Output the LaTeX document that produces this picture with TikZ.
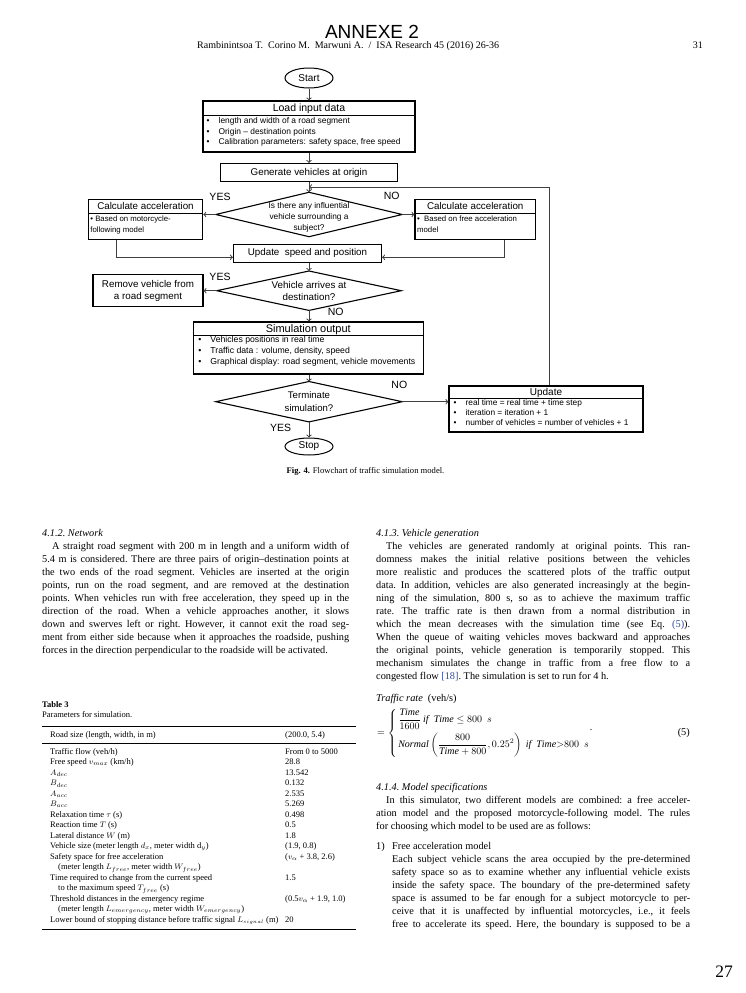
\documentclass[tikz,border=0pt]{standalone}
\usepackage{amsmath}
\usepackage{amssymb}
\usepackage{fontspec}
\setmainfont{Liberation Serif}
\newfontfamily\flowfont{Liberation Sans}
\usetikzlibrary{shapes.geometric, calc}

\definecolor{linkblue}{RGB}{45,75,165}
\newcommand{\bul}{\makebox[12pt][l]{\textbullet}}
\newcommand{\trow}[2]{\makebox[235pt][l]{#1}#2}
\newcommand{\justset}{\tolerance=9999\relax\hyphenpenalty=10000\relax\frenchspacing}
\newcommand{\decisionpath}[1]{\draw[line width=1.1pt] (#1.north) -- (#1.east) -- (#1.south) -- (#1.west) -- cycle;}

\tikzset{
  box/.style={draw, line width=1.1pt, inner sep=1pt, align=center, font=\flowfont\fontsize{9.8}{12}\selectfont},
  decision/.style={inner sep=0pt, align=center},
  terminal/.style={draw, ellipse, line width=1pt, inner sep=0pt, font=\flowfont\fontsize{10}{12}\selectfont},
  conn/.style={->, line width=1pt, black!75},
  yesno/.style={font=\flowfont\fontsize{10.5}{12}\selectfont, inner sep=0pt},
  boxtitle/.style={font=\flowfont\fontsize{10.5}{12}\selectfont, inner sep=0pt, anchor=base},
  boxitems/.style={font=\flowfont\fontsize{8.4}{10.8}\selectfont, inner sep=0pt, align=left, anchor=north west},
  bodytext/.style={font=\fontsize{10.3}{13}\selectfont, inner sep=0pt, anchor=north west, align=justify},
  tabtext/.style={font=\fontsize{8.5}{10.5}\selectfont\frenchspacing, inner sep=0pt, anchor=base west}
}

\begin{document}
\begin{tikzpicture}[x=1pt, y=-1pt]

    \useasboundingbox (0,0) rectangle (745,993);

    % Page header
    \node[font=\flowfont\fontsize{19}{21}\selectfont, anchor=base, inner sep=0pt] (annexe) at (372,38) {ANNEXE 2};
    \node[font=\fontsize{10}{12}\selectfont, anchor=base west, inner sep=0pt] (runhead) at (197,48) {Rambinintsoa T.\ \ Corino M.\ \ Marwuni A.\ \ /\ \ ISA Research 45 (2016) 26-36};
    \node[font=\fontsize{10}{12}\selectfont, anchor=base east, inner sep=0pt] (pageno) at (703,48) {31};

    % Flowchart: main column
    \node[terminal, minimum width=48, minimum height=20] (start) at (309,78) {Start};

    \node[box, minimum width=212, minimum height=51] (load) at (309,126.5) {};
    \node[boxtitle] (loadT) at ([yshift=-11pt]load.north) {Load input data};
    \draw[line width=0.8pt] ([yshift=-14.5pt]load.north west) -- ([yshift=-14.5pt]load.north east);
    \node[boxitems] (loadI) at ([xshift=4pt,yshift=-16.5pt]load.north west) {\bul length and width of a road segment\\\bul Origin – destination points\\\bul Calibration parameters: safety space, free speed};

    \node[box, minimum width=177, minimum height=18] (gen) at (309,172.5) {Generate vehicles at origin};
    \coordinate (join) at (309,187);

    \node[decision, minimum width=186, minimum height=44] (dec1) at (309,214.5) {};
    \decisionpath{dec1}
    \node[decision, font=\flowfont\fontsize{8.3}{10.8}\selectfont] (dec1T) at (309,217.5) {Is there any influential\\vehicle surrounding a\\subject?};

    % Flowchart: the two acceleration models
    \node[box, minimum width=114.5, minimum height=40] (calcL) at (145.5,219.3) {};
    \node[boxtitle, font=\flowfont\fontsize{9.8}{12}\selectfont] (calcLT) at ([yshift=-11pt]calcL.north) {Calculate acceleration};
    \draw[line width=0.8pt] ([yshift=-15pt]calcL.north west) -- ([yshift=-15pt]calcL.north east);
    \node[boxitems, font=\flowfont\fontsize{7.8}{11}\selectfont] (calcLI) at ([xshift=2.5pt,yshift=-17pt]calcL.north west) {\textbullet\ Based on motorcycle-\\following model};

    \node[box, minimum width=120.5, minimum height=40] (calcR) at (475.25,219.3) {};
    \node[boxtitle, font=\flowfont\fontsize{9.8}{12}\selectfont] (calcRT) at ([yshift=-11pt]calcR.north) {Calculate acceleration};
    \draw[line width=0.8pt] ([yshift=-15pt]calcR.north west) -- ([yshift=-15pt]calcR.north east);
    \node[boxitems, font=\flowfont\fontsize{7.8}{11}\selectfont] (calcRI) at ([xshift=2.5pt,yshift=-17pt]calcR.north west) {\textbullet\ \ Based on free acceleration\\model};

    \node[box, minimum width=148, minimum height=18] (upd) at (307.5,253.3) {Update\ \ speed and position};

    \node[decision, minimum width=184, minimum height=39, font=\flowfont\fontsize{9.8}{11.7}\selectfont] (dec2) at (309,290.7) {Vehicle arrives at\\destination?};
    \decisionpath{dec2}
    \node[box, minimum width=110, minimum height=32] (remove) at (148,290.5) {Remove vehicle from\\a road segment};

    % Flowchart: output and loop
    \node[box, minimum width=230, minimum height=52] (simout) at (308.3,348) {};
    \node[boxtitle, font=\flowfont\fontsize{11}{13}\selectfont] (simoutT) at ([yshift=-11.5pt]simout.north) {Simulation output};
    \draw[line width=0.8pt] ([yshift=-14pt]simout.north west) -- ([yshift=-14pt]simout.north east);
    \node[boxitems, font=\flowfont\fontsize{8.7}{10.8}\selectfont] (simoutI) at ([xshift=5.5pt,yshift=-15pt]simout.north west) {\bul Vehicles positions in real time\\\bul Traffic data : volume, density, speed\\\bul Graphical display: road segment, vehicle movements};

    \node[decision, minimum width=186, minimum height=40, font=\flowfont\fontsize{9.6}{12.3}\selectfont] (term) at (309,401.7) {Terminate\\simulation?};
    \decisionpath{term}

    \node[box, minimum width=194, minimum height=46] (updt) at (546,409) {};
    \node[boxtitle, font=\flowfont\fontsize{10}{12}\selectfont] (updtT) at ([yshift=-10pt]updt.north) {Update};
    \draw[line width=0.8pt] ([yshift=-12.5pt]updt.north west) -- ([yshift=-12.5pt]updt.north east);
    \node[boxitems, font=\flowfont\fontsize{8.3}{10}\selectfont] (updtI) at ([xshift=5pt,yshift=-14pt]updt.north west) {\bul real time = real time + time step\\\bul iteration = iteration + 1\\\bul number of vehicles = number of vehicles + 1};

    \node[terminal, minimum width=48, minimum height=17] (stop) at (309,446.5) {Stop};

    % Connectors
    \draw[conn] (start) -- (load);
    \draw[conn] (load) -- (gen);
    \draw[conn] (gen) -- (dec1);
    \draw[conn] ([xshift=3pt]updt.north) |- (join);
    \draw[conn] (dec1.west) -- (dec1.west -| calcL.east);
    \draw[conn] (dec1.east) -- (dec1.east -| calcR.west);
    \draw[conn] ([xshift=28.5pt]calcL.south west) |- ([yshift=-4pt]upd.west);
    \draw[conn] ([xshift=-32pt]calcR.south east) |- ([yshift=-4pt]upd.east);
    \draw[conn] (upd.south -| dec2.north) -- (dec2.north);
    \draw[conn] (dec2.west) -- (dec2.west -| remove.east);
    \draw[conn] (dec2.south) -- (dec2.south |- simout.north);
    \draw[conn] (term.north |- simout.south) -- (term.north);
    \draw[conn] (term.east) -- (term.east -| updt.west);
    \draw[conn] (term) -- (stop);

    % Branch labels
    \node[yesno] (yes1) at (220,196.7) {YES};
    \node[yesno] (no1) at (391.7,195.7) {NO};
    \node[yesno] (yes2) at (220,276.7) {YES};
    \node[yesno] (no2) at (335.7,311.7) {NO};
    \node[yesno] (no3) at (399.3,385) {NO};
    \node[yesno] (yes3) at (280.7,428.3) {YES};

    \node[font=\fontsize{8.6}{10}\selectfont, anchor=base, inner sep=0pt] (caption) at (365.5,473) {\textbf{Fig. 4.} Flowchart of traffic simulation model.};

    % Left column text
    \node[bodytext, text width=307] (network) at (42,526.9) {\justset\strut\textit{4.1.2. Network}\par
    \hspace*{10pt}A straight road segment with 200~m in length and a uniform width of\linebreak
    5.4~m is considered. There are three pairs of origin–destination points at\linebreak
    the two ends of the road segment. Vehicles are inserted at the origin\linebreak
    points, run on the road segment, and are removed at the destination\linebreak
    points. When vehicles run with free acceleration, they speed up in the\linebreak
    direction of the road. When a vehicle approaches another, it slows\linebreak
    down and swerves left or right. However, it cannot exit the road seg-\linebreak
    ment from either side because when it approaches the roadside, pushing\linebreak
    forces in the direction perpendicular to the roadside will be activated.};

    % Right column text
    \node[bodytext, text width=314] (vehgen) at (376,526.9) {\justset\strut\textit{4.1.3. Vehicle generation}\par
    \hspace*{10pt}The vehicles are generated randomly at original points. This ran-\linebreak
    domness makes the initial relative positions between the vehicles\linebreak
    more realistic and produces the scattered plots of the traffic output\linebreak
    data. In addition, vehicles are also generated increasingly at the begin-\linebreak
    ning of the simulation, 800~s, so as to achieve the maximum traffic\linebreak
    rate. The traffic rate is then drawn from a normal distribution in\linebreak
    which the mean decreases with the simulation time (see Eq.~\textcolor{linkblue}{(5)}).\linebreak
    When the queue of waiting vehicles moves backward and approaches\linebreak
    the original points, vehicle generation is temporarily stopped. This\linebreak
    mechanism simulates the change in traffic from a free flow to a\linebreak
    congested flow \textcolor{linkblue}{[18]}. The simulation is set to run for 4~h.};

    % Equation (5)
    \node[font=\fontsize{10.3}{13}\selectfont, anchor=base west, inner sep=0pt] (ratelbl) at (376,701) {\textit{Traffic rate}\ \ (veh/s)};
    \node[font=\fontsize{10}{12}\selectfont, anchor=west, inner sep=0pt] (rateeq) at (377,733) {$=\left\{\,\begin{array}{@{}l@{}}\dfrac{\mathit{Time}}{1600}\ \mathit{if}\ \ \mathit{Time}\leq 800\ \ s\\[7pt] \mathit{Normal}\left(\dfrac{800}{\mathit{Time}+800},0.25^2\right)\ \mathit{if}\ \ \mathit{Time}{>}800\ \ s\end{array}\right.$\raisebox{5pt}{.}};
    \node[font=\fontsize{10.3}{13}\selectfont, anchor=base east, inner sep=0pt] (eqno) at (690,735) {(5)};

    % Model specifications
    \node[bodytext, text width=314] (models) at (376,780.9) {\justset\strut\textit{4.1.4. Model specifications}\par
    \hspace*{10pt}In this simulator, two different models are combined: a free acceler-\linebreak
    ation model and the proposed motorcycle-following model. The rules\linebreak
    for choosing which model to be used are as follows:};
    \node[font=\fontsize{10.3}{13}\selectfont, anchor=base west, inner sep=0pt] (item1) at (376,849) {1)};
    \node[bodytext, text width=298] (freeacc) at (392,839.9) {\justset\strut Free acceleration model\par
    \parfillskip=0pt Each subject vehicle scans the area occupied by the pre-determined\linebreak
    safety space so as to examine whether any influential vehicle exists\linebreak
    inside the safety space. The boundary of the pre-determined safety\linebreak
    space is assumed to be far enough for a subject motorcycle to per-\linebreak
    ceive that it is unaffected by influential motorcycles, i.e., it feels\linebreak
    free to accelerate its speed. Here, the boundary is supposed to be a\par};

    % Table 3
    \node[tabtext] (tabno) at (42,707) {\textbf{Table 3}};
    \node[tabtext] (tabcap) at (42,717) {Parameters for simulation.};
    \draw[line width=0.9pt] (42,726) -- (356,726);
    \node[tabtext] (roadsize) at (50,737) {Road size (length, width, in m)};
    \node[tabtext] (roadval) at (285,737) {(200.0, 5.4)};
    \draw[line width=0.5pt] (42,743) -- (356,743);
    \node[tabtext, anchor=north west, align=left] (params) at (50,746.65) {\strut\trow{Traffic flow (veh/h)}{From 0 to 5000}\\
    \trow{Free speed $v_{max}$ (km/h)}{28.8}\\
    \trow{$A_{dec}$}{13.542}\\
    \trow{$B_{dec}$}{0.132}\\
    \trow{$A_{acc}$}{2.535}\\
    \trow{$B_{acc}$}{5.269}\\
    \trow{Relaxation time $\tau$ (s)}{0.498}\\
    \trow{Reaction time $T$ (s)}{0.5}\\
    \trow{Lateral distance $W$ (m)}{1.8}\\
    \trow{Vehicle size (meter length $d_x$, meter width d$_y$)}{(1.9, 0.8)}\\
    \trow{Safety space for free acceleration}{($v_{\alpha}$ + 3.8, 2.6)}\\
    \trow{\hspace*{8pt}(meter length $L_{free}$, meter width $W_{free}$)}{}\\
    \trow{Time required to change from the current speed}{1.5}\\
    \trow{\hspace*{8pt}to the maximum speed $T_{free}$ (s)}{}\\
    \trow{Threshold distances in the emergency regime}{(0.5$v_{\alpha}$ + 1.9, 1.0)}\\
    \trow{\hspace*{8pt}(meter length $L_{emergency}$, meter width $W_{emergency}$)}{}\\
    \trow{Lower bound of stopping distance before traffic signal $L_{\scriptscriptstyle signal}$ (m)}{20}};
    \draw[line width=0.9pt] (42,929) -- (356,929);

    % Folio
    \node[font=\fontsize{17.5}{20}\selectfont, anchor=base east, inner sep=0pt] (folio) at (733,977) {27};

\end{tikzpicture}
\end{document}
